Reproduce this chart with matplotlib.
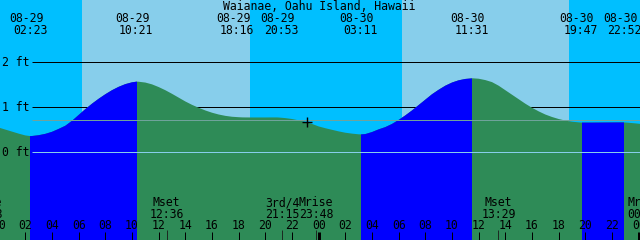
import matplotlib
matplotlib.use("Agg")
import matplotlib.pyplot as plt
from matplotlib.patches import Rectangle
from matplotlib import transforms

# ---------------- data ----------------
title = "Waianae, Oahu Island, Hawaii"

# tide height (ft) read every half hour from 08-29 00:00
hours = [i * 0.5 for i in range(99)]
heights = [0.55, 0.505, 0.46, 0.415, 0.375, 0.362, 0.38, 0.41, 0.455, 0.52,
           0.59, 0.70, 0.83, 0.96, 1.08, 1.19, 1.29, 1.38, 1.455, 1.515,
           1.555, 1.568, 1.55, 1.51, 1.45, 1.38, 1.30, 1.215, 1.13, 1.055,
           0.99, 0.93, 0.88, 0.84, 0.81, 0.79, 0.78, 0.775, 0.774, 0.774,
           0.774, 0.775, 0.773, 0.76, 0.74, 0.71, 0.675, 0.63, 0.575, 0.535,
           0.50, 0.465, 0.435, 0.415, 0.40, 0.405, 0.45, 0.51, 0.56, 0.63,
           0.72, 0.82, 0.93, 1.05, 1.17, 1.29, 1.39, 1.48, 1.55, 1.60,
           1.63, 1.643, 1.635, 1.605, 1.56, 1.48, 1.38, 1.28, 1.18, 1.08,
           0.99, 0.91, 0.84, 0.785, 0.74, 0.705, 0.68, 0.665, 0.66, 0.66,
           0.661, 0.662, 0.663, 0.664, 0.662, 0.65, 0.635, 0.62, 0.61]

# tide events (top labels)
event_dates = ["08-29", "08-29", "08-29", "08-29", "08-30", "08-30", "08-30", "08-30"]
event_times = ["02:23", "10:21", "18:16", "20:53", "03:11", "11:31", "19:47", "22:52"]
event_heights = [0.36, 1.57, 0.776, 0.775, 0.398, 1.645, 0.66, 0.664]
flood_pairs = [(0, 1), (4, 5), (6, 7)]   # rising-tide spans (event indices)

# sun
sunrise = ["08-29 06:15", "08-30 06:15"]
sunset = ["08-29 18:51", "08-30 18:47"]

# moon events (bottom labels)
moon_names = ["Mrise", "Mset", "3rd/4", "Mrise", "Mset", "Mrise"]
moon_times = ["08-28 22:58", "08-29 12:36", "08-29 21:15", "08-29 23:48",
              "08-30 13:29", "08-31 00:25"]

grid_levels = [1, 2]
grid_labels = ["1 ft", "2 ft"]
datum_level = 0
datum_label = "0 ft"
mean_level = 0.71
now_stamp = "08-29 23:08"
now_height = 0.67
hour_ticks = list(range(0, 49, 2))

# ---------------- style ----------------
NIGHT = "#00BFFF"
DAY = "#87CEEB"
EBB = "#2E8B57"
FLOOD = "#0000FF"
DATUM_C = "#87CEEB"
MEAN_C = "#6FA39B"
FONT = dict(family="DejaVu Sans Mono", size=8.3, color="black")

W, H = 640, 240
T0 = 0.1                      # hours at left edge
PXH = 48.0 / W                # hours per pixel
FT_PX = 45.0                  # pixels per foot
ZERO_Y = 152.3                # pixel row of 0 ft
YTOP = ZERO_Y / FT_PX
YBOT = (ZERO_Y - H) / FT_PX
LINE_X0 = T0 + 32 * PXH
LW1 = 0.72                    # 1 px


def to_h(stamp, base_day=29):
    md, hm = stamp.split(" ")
    day = int(md.split("-")[1])
    hh, mm = hm.split(":")
    return (day - base_day) * 24 + int(hh) + int(mm) / 60.0


def fy(ypix):
    return 1 - ypix / H


fig = plt.figure(figsize=(W / 100, H / 100), dpi=100)
ax = fig.add_axes([0, 0, 1, 1])
ax.set_xlim(T0, T0 + 48)
ax.set_ylim(YBOT, YTOP)
ax.axis("off")
xa = transforms.blended_transform_factory(ax.transData, ax.transAxes)
ax_x = transforms.blended_transform_factory(ax.transAxes, ax.transData)

# sky
ax.axvspan(T0 - 5, T0 + 55, color=NIGHT, lw=0, zorder=0)
for r, s in zip(sunrise, sunset):
    ax.axvspan(to_h(r), to_h(s), color=DAY, lw=0, zorder=0.5)

# grid lines under water
ax.hlines(grid_levels, LINE_X0, T0 + 49, colors="black", lw=LW1, zorder=1)

# water curve
ev_h = [to_h(d + " " + t) for d, t in zip(event_dates, event_times)]
pts = sorted(list(zip(hours, heights)) + list(zip(ev_h, event_heights)))
tt = [p[0] for p in pts]
hh = [p[1] for p in pts]
ax.fill_between(tt, YBOT - 1, hh, color=EBB, lw=0, zorder=2)
for a, b in flood_pairs:
    poly = ax.fill_between(tt, YBOT - 1, hh, color=FLOOD, lw=0, zorder=3)
    rect = Rectangle((ev_h[a], YBOT - 1), ev_h[b] - ev_h[a], YTOP - YBOT + 2,
                     transform=ax.transData)
    poly.set_clip_path(rect)

# datum and mean lines
ax.hlines([datum_level], LINE_X0, T0 + 49, colors=DATUM_C, lw=LW1, zorder=4)
ax.hlines([mean_level], LINE_X0, T0 + 49, colors=MEAN_C, lw=LW1, zorder=4)

# y labels
for lv, lb in zip(grid_levels + [datum_level], grid_labels + [datum_label]):
    ax.text(2 / W, lv - 4 / FT_PX, lb, transform=ax_x, ha="left", va="baseline",
            zorder=6, **FONT)

# now marker
ax.plot([to_h(now_stamp)], [now_height], marker="+", color="black", ms=6.5,
        mew=1.0, zorder=6)

# title
ax.text(319 / W, fy(9.5), title, transform=ax.transAxes, ha="center",
        va="baseline", zorder=6, **FONT)

# event labels with collision push (min 44 px apart)
cx = [(t - T0) / PXH for t in ev_h]
MIN_D = 44.0
for _ in range(5):
    for i in range(len(cx) - 1):
        d = cx[i + 1] - cx[i]
        if d < MIN_D:
            sh = (MIN_D - d) / 2
            cx[i] -= sh
            cx[i + 1] += sh
for c, d, t in zip(cx, event_dates, event_times):
    xh = T0 + (c - 0.5) * PXH
    ax.text(xh - 4 * PXH, fy(21.7), d, transform=xa, ha="center", va="baseline",
            zorder=6, clip_on=False, **FONT)
    ax.text(xh, fy(34.0), t, transform=xa, ha="center", va="baseline",
            zorder=6, clip_on=False, **FONT)

# moon labels & ticks
for n, s in zip(moon_names, moon_times):
    t = to_h(s)
    ax.text(t, fy(206.0), n, transform=xa, ha="center", va="baseline", zorder=6, **FONT)
    ax.text(t, fy(217.7), s.split(" ")[1], transform=xa, ha="center", va="baseline",
            zorder=6, **FONT)
    ax.plot([t, t], [fy(230), fy(241)], transform=xa, color="#1c2a22", lw=LW1,
            zorder=5, solid_capstyle="butt")

# hour labels & ticks
for h in hour_ticks:
    ax.text(h, fy(229.3), f"{h % 24:02d}", transform=xa, ha="center", va="baseline",
            zorder=6, **FONT)
    lw = 3 * LW1 if h % 24 == 0 else LW1
    ax.plot([h, h], [fy(231.7), fy(241)], transform=xa, color="black", lw=lw,
            zorder=5, solid_capstyle="butt")

fig.savefig("out.png", dpi=100)
